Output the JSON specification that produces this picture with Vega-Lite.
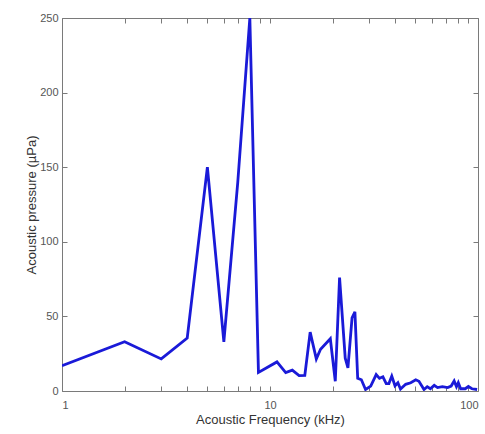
{
  "$schema": "https://vega.github.io/schema/vega-lite/v6.json",
  "width": 416,
  "height": 373,
  "autosize": {"type": "none"},
  "padding": {"left": 62, "top": 18, "right": 7, "bottom": 43},
  "background": "white",
  "config": {
    "view": {"stroke": "#7a7a7a", "strokeWidth": 1},
    "axis": {
      "labelFont": "Liberation Sans",
      "titleFont": "Liberation Sans",
      "labelColor": "#555555",
      "titleColor": "#333333",
      "domain": false,
      "tickColor": "#7a7a7a",
      "titleFontWeight": "normal",
      "labelFontSize": 11,
      "titleFontSize": 13,
      "grid": false,
      "ticks": true,
      "tickWidth": 1,
      "tickSize": 5,
      "offset": -5
    }
  },
  "data": {
    "values": [
      {"f": 1, "p": 17},
      {"f": 2, "p": 33},
      {"f": 3, "p": 21.5},
      {"f": 4, "p": 35.5},
      {"f": 5, "p": 150},
      {"f": 6, "p": 33},
      {"f": 7, "p": 140},
      {"f": 8, "p": 250},
      {"f": 8.8, "p": 12.5},
      {"f": 10.8, "p": 19.5},
      {"f": 11.9, "p": 12.3},
      {"f": 12.8, "p": 14},
      {"f": 13.8, "p": 10.3},
      {"f": 14.7, "p": 10.5},
      {"f": 15.6, "p": 39.5},
      {"f": 16.7, "p": 21.5},
      {"f": 17.5, "p": 28},
      {"f": 19.5, "p": 35},
      {"f": 20.6, "p": 6.5},
      {"f": 21.6, "p": 76},
      {"f": 23.0, "p": 22},
      {"f": 23.7, "p": 15.5},
      {"f": 24.8, "p": 49},
      {"f": 25.6, "p": 53},
      {"f": 26.4, "p": 8.5},
      {"f": 27.5, "p": 7.5},
      {"f": 28.8, "p": 1},
      {"f": 30.5, "p": 3.3},
      {"f": 32.4, "p": 11},
      {"f": 33.6, "p": 8.5},
      {"f": 34.9, "p": 9.5},
      {"f": 36.2, "p": 5},
      {"f": 37.3, "p": 5},
      {"f": 38.5, "p": 10},
      {"f": 39.9, "p": 3.5},
      {"f": 41.2, "p": 5.5},
      {"f": 42.4, "p": 1.3},
      {"f": 44.9, "p": 4.5},
      {"f": 47.5, "p": 5.5},
      {"f": 50.2, "p": 7.5},
      {"f": 52.0, "p": 6.5},
      {"f": 55, "p": 1},
      {"f": 57, "p": 2.9},
      {"f": 59, "p": 1.5},
      {"f": 61.6, "p": 3.8},
      {"f": 63.9, "p": 2.3},
      {"f": 67.4, "p": 2.9},
      {"f": 71.5, "p": 2.3},
      {"f": 74.3, "p": 3.3},
      {"f": 76.8, "p": 6.7},
      {"f": 78.8, "p": 2.9},
      {"f": 80.4, "p": 5.6},
      {"f": 82.5, "p": 1.5},
      {"f": 86.8, "p": 1.5},
      {"f": 89.9, "p": 3},
      {"f": 93.5, "p": 1.5},
      {"f": 99, "p": 1}
    ]
  },
  "layer": [
    {
      "mark": {"type": "line", "color": "#1a1ad8", "strokeWidth": 2.8, "clip": true},
      "encoding": {
        "x": {
          "field": "f", "type": "quantitative",
          "scale": {"type": "log", "domain": [1, 100], "nice": false},
          "axis": {
            "orient": "bottom", "title": "Acoustic Frequency (kHz)",
            "values": [1,2,3,4,5,6,7,8,9,10,20,30,40,50,60,70,80,90,100],
            "labelExpr": "datum.value == 1 || datum.value == 10 || datum.value == 100 ? format(datum.value, 'd') : ''",
            "labelPadding": 8,
            "titlePadding": 3
          }
        },
        "y": {
          "field": "p", "type": "quantitative",
          "scale": {"domain": [0, 250], "nice": false},
          "axis": {
            "orient": "left", "title": "Acoustic pressure (µPa)",
            "values": [0, 50, 100, 150, 200, 250],
            "labelPadding": 4,
            "titlePadding": 1
          }
        }
      }
    },
    {
      "mark": {"type": "line", "color": "#1a1ad8", "strokeWidth": 0, "clip": true},
      "encoding": {
        "x": {
          "field": "f", "type": "quantitative",
          "scale": {"type": "log", "domain": [1, 100], "nice": false},
          "axis": {
            "orient": "top", "title": null, "labels": false,
            "values": [1,2,3,4,5,6,7,8,9,10,20,30,40,50,60,70,80,90,100]
          }
        },
        "y": {
          "field": "p", "type": "quantitative",
          "scale": {"domain": [0, 250], "nice": false},
          "axis": {
            "orient": "right", "title": null, "labels": false,
            "values": [0, 50, 100, 150, 200, 250]
          }
        }
      }
    }
  ],
  "resolve": {"scale": {"x": "independent", "y": "independent"}}
}
